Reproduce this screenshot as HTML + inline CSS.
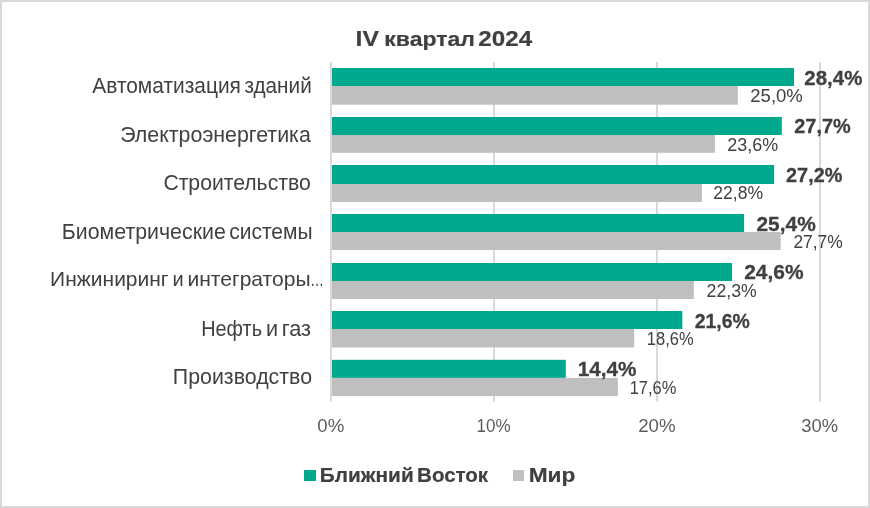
<!DOCTYPE html>
<html lang="ru"><head><meta charset="utf-8"><title>IV квартал 2024</title>
<style>
html,body{margin:0;padding:0;background:#fff;}
body{width:870px;height:508px;overflow:hidden;}
svg{display:block;font-family:"Liberation Sans",sans-serif;}
.cat{font-size:21.2px;fill:#404040;}
.gl{font-size:20.7px;font-weight:bold;fill:#404040;stroke:#404040;stroke-width:0.3px;}
.wl{font-size:18px;fill:#404040;}
.ax{font-size:18.5px;fill:#5c5c5c;}
.ttl{font-size:22px;font-weight:bold;fill:#404040;stroke:#404040;stroke-width:0.2px;}
.leg{font-size:21px;font-weight:bold;fill:#404040;stroke:#404040;stroke-width:0.2px;}
</style></head><body>
<svg width="870" height="508" viewBox="0 0 870 508">
<rect x="0" y="0" width="870" height="508" fill="#d9d9d9"/>
<rect x="2" y="2" width="866" height="504" fill="#ffffff"/>
<rect x="493" y="62" width="2" height="339.5" fill="#d9d9d9"/>
<rect x="656" y="62" width="2" height="339.5" fill="#d9d9d9"/>
<rect x="819" y="62" width="2" height="339.5" fill="#d9d9d9"/>
<rect x="331" y="68.00" width="463.00" height="18.00" fill="#00a88e"/>
<rect x="331" y="86.00" width="406.80" height="18.70" fill="#bfbfbf"/>
<rect x="331" y="117.00" width="450.80" height="18.00" fill="#00a88e"/>
<rect x="331" y="135.00" width="383.90" height="17.80" fill="#bfbfbf"/>
<rect x="331" y="165.00" width="443.10" height="19.00" fill="#00a88e"/>
<rect x="331" y="184.00" width="370.90" height="18.00" fill="#bfbfbf"/>
<rect x="331" y="214.00" width="413.10" height="18.00" fill="#00a88e"/>
<rect x="331" y="232.00" width="449.70" height="18.00" fill="#bfbfbf"/>
<rect x="331" y="263.00" width="401.00" height="18.00" fill="#00a88e"/>
<rect x="331" y="281.00" width="362.80" height="18.00" fill="#bfbfbf"/>
<rect x="331" y="311.00" width="351.30" height="18.00" fill="#00a88e"/>
<rect x="331" y="329.00" width="303.20" height="18.50" fill="#bfbfbf"/>
<rect x="331" y="359.80" width="234.80" height="18.10" fill="#00a88e"/>
<rect x="331" y="377.90" width="286.90" height="18.20" fill="#bfbfbf"/>
<rect x="330" y="62" width="2" height="339.5" fill="#d9d9d9"/>
<text class="ttl" y="45.70"><tspan style="font-size:22.4px" x="355.60" textLength="23.34" lengthAdjust="spacingAndGlyphs">IV</tspan> <tspan style="font-size:20.4px" x="384.29" textLength="90.56" lengthAdjust="spacingAndGlyphs">квартал</tspan> <tspan style="font-size:22.8px" x="478.39" textLength="53.78" lengthAdjust="spacingAndGlyphs">2024</tspan></text>
<text class="cat" y="92.70"><tspan x="92.29" textLength="148.65" lengthAdjust="spacingAndGlyphs">Автоматизация</tspan> <tspan x="244.44" textLength="67.32" lengthAdjust="spacingAndGlyphs">зданий</tspan></text>
<text class="cat" y="141.70"><tspan x="120.23" textLength="190.59" lengthAdjust="spacingAndGlyphs">Электроэнергетика</tspan></text>
<text class="cat" y="189.90"><tspan x="163.40" textLength="147.31" lengthAdjust="spacingAndGlyphs">Строительство</tspan></text>
<text class="cat" y="238.60"><tspan x="61.81" textLength="163.96" lengthAdjust="spacingAndGlyphs">Биометрические</tspan> <tspan x="229.20" textLength="83.44" lengthAdjust="spacingAndGlyphs">системы</tspan></text>
<text class="cat" y="286.40"><tspan style="font-size:20.6px" x="50.13" textLength="118.35" lengthAdjust="spacingAndGlyphs">Инжиниринг</tspan> <tspan style="font-size:20.6px" x="172.55" textLength="11.16" lengthAdjust="spacingAndGlyphs">и</tspan> <tspan style="font-size:20.6px" x="187.47" textLength="123.08" lengthAdjust="spacingAndGlyphs">интеграторы</tspan><tspan style="font-size:20.6px" x="310.28" textLength="13.60" lengthAdjust="spacingAndGlyphs">…</tspan></text>
<text class="cat" y="335.80"><tspan x="201.21" textLength="60.78" lengthAdjust="spacingAndGlyphs">Нефть</tspan> <tspan x="265.91" textLength="12.10" lengthAdjust="spacingAndGlyphs">и</tspan> <tspan x="281.82" textLength="29.20" lengthAdjust="spacingAndGlyphs">газ</tspan></text>
<text class="cat" y="384.10"><tspan x="172.86" textLength="139.15" lengthAdjust="spacingAndGlyphs">Производство</tspan></text>
<text class="gl" y="84.80"><tspan x="804.35" textLength="58.00" lengthAdjust="spacingAndGlyphs">28,4%</tspan></text>
<text class="wl" y="102.20"><tspan x="750.27" textLength="52.61" lengthAdjust="spacingAndGlyphs">25,0%</tspan></text>
<text class="gl" y="133.00"><tspan x="794.31" textLength="56.40" lengthAdjust="spacingAndGlyphs">27,7%</tspan></text>
<text class="wl" y="150.80"><tspan x="727.36" textLength="50.83" lengthAdjust="spacingAndGlyphs">23,6%</tspan></text>
<text class="gl" y="181.60"><tspan x="786.07" textLength="56.26" lengthAdjust="spacingAndGlyphs">27,2%</tspan></text>
<text class="wl" y="199.40"><tspan x="713.25" textLength="49.82" lengthAdjust="spacingAndGlyphs">22,8%</tspan></text>
<text class="gl" y="231.00"><tspan x="756.49" textLength="59.24" lengthAdjust="spacingAndGlyphs">25,4%</tspan></text>
<text class="wl" y="248.00"><tspan x="793.40" textLength="49.38" lengthAdjust="spacingAndGlyphs">27,7%</tspan></text>
<text class="gl" y="278.70"><tspan x="744.18" textLength="59.43" lengthAdjust="spacingAndGlyphs">24,6%</tspan></text>
<text class="wl" y="296.60"><tspan x="706.60" textLength="50.15" lengthAdjust="spacingAndGlyphs">22,3%</tspan></text>
<text class="gl" y="327.80"><tspan x="694.78" textLength="55.04" lengthAdjust="spacingAndGlyphs">21,6%</tspan></text>
<text class="wl" y="345.20"><tspan x="646.82" textLength="46.77" lengthAdjust="spacingAndGlyphs">18,6%</tspan></text>
<text class="gl" y="375.70"><tspan x="577.78" textLength="58.77" lengthAdjust="spacingAndGlyphs">14,4%</tspan></text>
<text class="wl" y="393.80"><tspan x="629.65" textLength="46.74" lengthAdjust="spacingAndGlyphs">17,6%</tspan></text>
<text class="ax" y="432.00"><tspan x="317.31" textLength="26.96" lengthAdjust="spacingAndGlyphs">0%</tspan></text>
<text class="ax" y="432.00"><tspan x="476.48" textLength="34.10" lengthAdjust="spacingAndGlyphs">10%</tspan></text>
<text class="ax" y="432.00"><tspan x="638.19" textLength="37.39" lengthAdjust="spacingAndGlyphs">20%</tspan></text>
<text class="ax" y="432.00"><tspan x="801.31" textLength="36.81" lengthAdjust="spacingAndGlyphs">30%</tspan></text>
<text class="leg" y="481.80"><tspan x="319.82" textLength="93.90" lengthAdjust="spacingAndGlyphs">Ближний</tspan> <tspan x="417.09" textLength="71.03" lengthAdjust="spacingAndGlyphs">Восток</tspan></text>
<text class="leg" y="481.80"><tspan x="528.71" textLength="46.64" lengthAdjust="spacingAndGlyphs">Мир</tspan></text>
<rect x="304" y="470" width="12" height="11" fill="#00a88e"/>
<rect x="513" y="470" width="11" height="11" fill="#bfbfbf"/>
</svg>
</body></html>
